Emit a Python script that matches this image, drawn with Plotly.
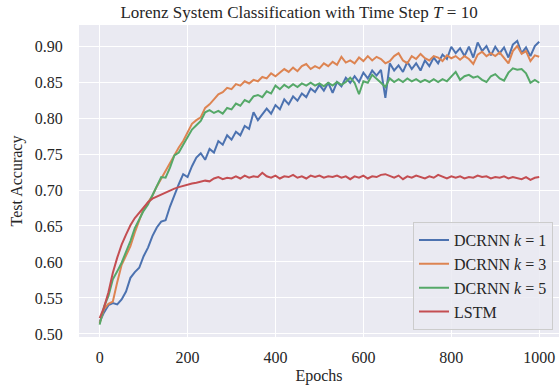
import plotly.graph_objects as go

epochs = list(range(0, 1001, 10))

dcrnn_k1 = [0.517, 0.530, 0.540, 0.543, 0.541, 0.548, 0.559, 0.578, 0.586, 0.592,
            0.608, 0.620, 0.636, 0.648, 0.656, 0.658, 0.677, 0.693, 0.708, 0.722,
            0.718, 0.733, 0.745, 0.751, 0.742, 0.757, 0.752, 0.768, 0.763, 0.776,
            0.770, 0.781, 0.776, 0.789, 0.785, 0.808, 0.797, 0.805, 0.813, 0.806,
            0.818, 0.812, 0.826, 0.819, 0.830, 0.824, 0.834, 0.829, 0.841, 0.836,
            0.846, 0.838, 0.849, 0.835, 0.850, 0.844, 0.856, 0.849, 0.858, 0.850,
            0.863, 0.855, 0.866, 0.859, 0.867, 0.828, 0.876, 0.866, 0.873, 0.864,
            0.878, 0.868, 0.876, 0.866, 0.880, 0.872, 0.884, 0.876, 0.888, 0.882,
            0.899, 0.890, 0.897, 0.886, 0.899, 0.884, 0.905, 0.893, 0.900, 0.887,
            0.899, 0.890, 0.898, 0.884, 0.902, 0.907, 0.890, 0.898, 0.886, 0.900,
            0.906]

dcrnn_k3 = [0.515, 0.535, 0.542, 0.545, 0.572, 0.596, 0.609, 0.622, 0.641, 0.657,
            0.674, 0.683, 0.692, 0.705, 0.716, 0.727, 0.737, 0.750, 0.759, 0.768,
            0.781, 0.792, 0.797, 0.801, 0.814, 0.819, 0.826, 0.833, 0.836, 0.842,
            0.840, 0.847, 0.845, 0.851, 0.848, 0.853, 0.851, 0.857, 0.855, 0.862,
            0.858, 0.863, 0.868, 0.864, 0.870, 0.865, 0.872, 0.875, 0.868, 0.872,
            0.869, 0.876, 0.872, 0.878, 0.874, 0.885, 0.877, 0.880, 0.876, 0.884,
            0.879, 0.886, 0.880, 0.885, 0.882, 0.876, 0.879, 0.886, 0.890, 0.880,
            0.876, 0.886, 0.882, 0.889, 0.883, 0.880, 0.886, 0.884, 0.879, 0.887,
            0.883, 0.886, 0.881, 0.886, 0.882, 0.875, 0.888, 0.892, 0.886, 0.890,
            0.886, 0.891, 0.884, 0.876, 0.893, 0.900, 0.889, 0.893, 0.879, 0.887,
            0.885]

dcrnn_k5 = [0.513, 0.538, 0.553, 0.576, 0.587, 0.599, 0.614, 0.629, 0.647, 0.660,
            0.671, 0.680, 0.693, 0.706, 0.718, 0.717, 0.731, 0.748, 0.752, 0.763,
            0.774, 0.784, 0.790, 0.796, 0.808, 0.811, 0.807, 0.810, 0.806, 0.814,
            0.812, 0.820, 0.817, 0.825, 0.822, 0.830, 0.832, 0.829, 0.837, 0.834,
            0.845, 0.840, 0.846, 0.842, 0.847, 0.843, 0.848, 0.845, 0.849, 0.845,
            0.848, 0.844, 0.849, 0.845, 0.850, 0.846, 0.850, 0.856, 0.849, 0.833,
            0.851, 0.849, 0.860, 0.855, 0.849, 0.843, 0.855, 0.850, 0.854, 0.850,
            0.855, 0.851, 0.854, 0.850, 0.853, 0.850, 0.854, 0.850, 0.854, 0.851,
            0.857, 0.864, 0.853, 0.858, 0.860, 0.856, 0.858, 0.853, 0.850, 0.858,
            0.861, 0.855, 0.852, 0.863, 0.869, 0.867, 0.868, 0.862, 0.849, 0.853,
            0.849]

lstm = [0.522, 0.537, 0.558, 0.585, 0.606, 0.624, 0.638, 0.651, 0.661, 0.668,
        0.676, 0.683, 0.688, 0.691, 0.694, 0.697, 0.699, 0.702, 0.704, 0.706,
        0.707, 0.709, 0.710, 0.712, 0.713, 0.712, 0.716, 0.718, 0.715, 0.717,
        0.716, 0.719, 0.716, 0.720, 0.717, 0.719, 0.718, 0.724, 0.719, 0.717,
        0.720, 0.716, 0.719, 0.718, 0.721, 0.717, 0.719, 0.716, 0.720, 0.718,
        0.720, 0.717, 0.719, 0.718, 0.720, 0.717, 0.719, 0.715, 0.719, 0.717,
        0.720, 0.716, 0.719, 0.718, 0.721, 0.722, 0.719, 0.717, 0.720, 0.715,
        0.719, 0.717, 0.720, 0.718, 0.716, 0.719, 0.717, 0.721, 0.718, 0.716,
        0.719, 0.717, 0.719, 0.716, 0.718, 0.717, 0.720, 0.718, 0.719, 0.716,
        0.718, 0.717, 0.719, 0.716, 0.718, 0.717, 0.715, 0.718, 0.714, 0.717,
        0.718]

series = [
    ("DCRNN <i>k</i> = 1", dcrnn_k1, "#4c72b0"),
    ("DCRNN <i>k</i> = 3", dcrnn_k3, "#dd8452"),
    ("DCRNN <i>k</i> = 5", dcrnn_k5, "#55a868"),
    ("LSTM", lstm, "#c44e52"),
]

y_ticks = [0.50, 0.55, 0.60, 0.65, 0.70, 0.75, 0.80, 0.85, 0.90]
x_ticks = [0, 200, 400, 600, 800, 1000]

FONT = "Liberation Serif"
TXT = "#262626"

fig = go.Figure()
for name, vals, col in series:
    fig.add_trace(go.Scatter(x=epochs, y=vals, mode="lines", name=name,
                             line=dict(color=col, width=2)))

fig.update_layout(
    width=559, height=388,
    margin=dict(l=79, r=0, t=25, b=51),
    paper_bgcolor="white", plot_bgcolor="#eaeaf2",
    font=dict(family=FONT, size=16, color=TXT),
    title=dict(text="Lorenz System Classification with Time Step <i>T</i> = 10",
               x=0.535, xanchor="center", y=0.968, yanchor="middle",
               font=dict(family=FONT, size=17, color=TXT)),
    showlegend=True,
    legend=dict(x=0.9875, y=0.022, xanchor="right", yanchor="bottom",
                bgcolor="rgba(234,234,242,0.85)", bordercolor="#cccccc",
                borderwidth=1, font=dict(family=FONT, size=16, color=TXT),
                tracegroupgap=0),
)
fig.update_xaxes(range=[-47, 1045], tickvals=x_ticks,
                 ticktext=[str(v) for v in x_ticks],
                 showgrid=True, gridcolor="white", gridwidth=1, zeroline=False,
                 showline=False, ticks="outside", ticklen=6,
                 tickcolor="rgba(0,0,0,0)",
                 title=dict(text="Epochs", standoff=4,
                            font=dict(family=FONT, size=16, color=TXT)))
fig.update_yaxes(range=[0.4958, 0.9292], tickvals=y_ticks,
                 ticktext=[f"{v:.2f}" for v in y_ticks],
                 showgrid=True, gridcolor="white", gridwidth=1, zeroline=False,
                 showline=False, ticks="outside", ticklen=12,
                 tickcolor="rgba(0,0,0,0)",
                 title=dict(text="Test Accuracy", standoff=8,
                            font=dict(family=FONT, size=16, color=TXT)))

fig.write_html("out.html")
